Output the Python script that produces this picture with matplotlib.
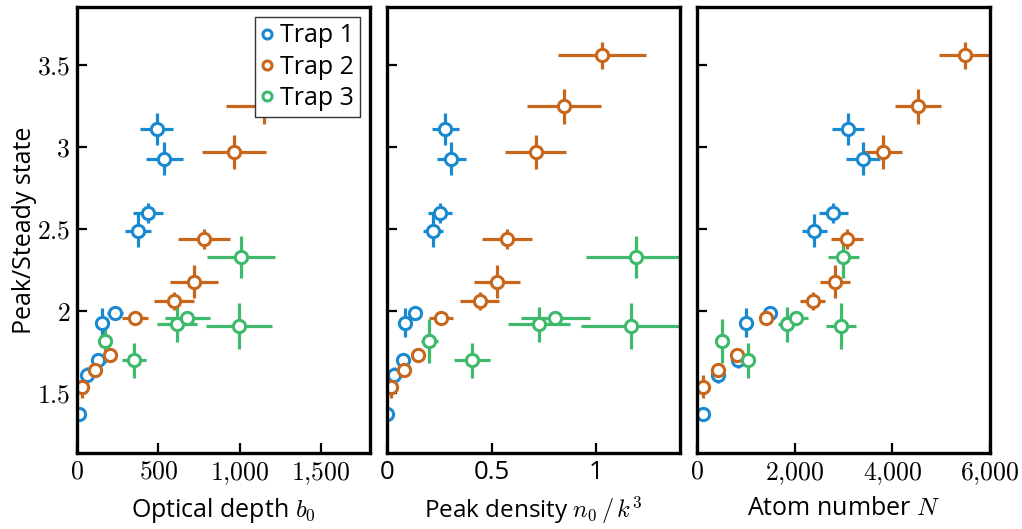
import matplotlib
matplotlib.use("Agg")
import matplotlib.pyplot as plt

plt.rcParams['font.family'] = ['Open Sans', 'DejaVu Sans']
plt.rcParams['mathtext.fontset'] = 'cm'

# peak / steady-state ratio per trap
t1_y = [1.37, 1.61, 1.70, 1.93, 1.99, 2.49, 2.60, 3.11, 2.93]
t1_yerr = [0.02, 0.05, 0.045, 0.087, 0.03, 0.10, 0.062, 0.097, 0.10]
t2_y = [1.54, 1.64, 1.73, 1.96, 2.06, 2.18, 2.44, 2.97, 3.25, 3.56]
t2_yerr = [0.07, 0.03, 0.03, 0.02, 0.055, 0.10, 0.06, 0.105, 0.106, 0.08]
t3_y = [1.82, 1.70, 1.92, 1.96, 1.91, 2.33]
t3_yerr = [0.135, 0.107, 0.107, 0.03, 0.14, 0.13]

# optical depth b0
t1_b0 = [12, 60, 131, 151, 233, 376, 438, 489, 536]
t1_b0err = [3, 12, 26, 30, 47, 80, 92, 104, 113]
t2_b0 = [29, 110, 202, 356, 597, 718, 779, 963, 1147, 1400]
t2_b0err = [6, 22, 40, 79, 125, 147, 160, 196, 233, 260]
t3_b0 = [172, 350, 616, 679, 996, 1006]
t3_b0err = [35, 75, 123, 140, 202, 208]

# peak density n0/k^3
t1_n = [0.002, 0.034, 0.074, 0.087, 0.133, 0.218, 0.253, 0.279, 0.308]
t1_nerr = [0.001, 0.007, 0.015, 0.018, 0.028, 0.048, 0.056, 0.063, 0.068]
t2_n = [0.018, 0.079, 0.146, 0.258, 0.442, 0.527, 0.574, 0.710, 0.846, 1.027]
t2_nerr = [0.004, 0.016, 0.03, 0.058, 0.094, 0.11, 0.119, 0.147, 0.175, 0.21]
t3_n = [0.202, 0.407, 0.726, 0.803, 1.168, 1.19]
t3_nerr = [0.04, 0.087, 0.15, 0.165, 0.24, 0.24]

# atom number N
t1_N = [130, 437, 847, 1004, 1495, 2396, 2791, 3099, 3393]
t1_Nerr = [15, 45, 85, 100, 150, 256, 300, 325, 350]
t2_N = [130, 437, 812, 1413, 2369, 2826, 3078, 3803, 4532, 5488]
t2_Nerr = [15, 45, 80, 140, 256, 307, 324, 392, 471, 526]
t3_N = [519, 1051, 1837, 2027, 2949, 2997]
t3_Nerr = [55, 105, 180, 256, 307, 314]

labels = ['Trap 1', 'Trap 2', 'Trap 3']
colors = ['#1a8ad0', '#c8671c', '#3fb96b']

y_ticks = [1.5, 2, 2.5, 3, 3.5]
y_ticklabels = ['$1.5$', '$2$', '$2.5$', '$3$', '$3.5$']
b0_ticks = [0, 500, 1000, 1500]
b0_ticklabels = ['$0$', '$500$', '$1{,}000$', '$1{,}500$']
n_ticks = [0, 0.5, 1]
n_ticklabels = ['0', '0.5', '1']
N_ticks = [0, 2000, 4000, 6000]
N_ticklabels = ['$0$', '$2{,}000$', '$4{,}000$', '$6{,}000$']

fig = plt.figure(figsize=(10.22, 5.29), dpi=100)
w, h, bot = 0.2867, 0.843, 0.1437
axs = [fig.add_axes([l, bot, w, h]) for l in (0.0753, 0.3787, 0.682)]

panels = [
    ([t1_b0, t2_b0, t3_b0], [t1_b0err, t2_b0err, t3_b0err]),
    ([t1_n, t2_n, t3_n], [t1_nerr, t2_nerr, t3_nerr]),
    ([t1_N, t2_N, t3_N], [t1_Nerr, t2_Nerr, t3_Nerr]),
]
ys = [t1_y, t2_y, t3_y]
yerrs = [t1_yerr, t2_yerr, t3_yerr]

for ax, (xs, xerrs) in zip(axs, panels):
    for x, xe, y, ye, c, lab in zip(xs, xerrs, ys, yerrs, colors, labels):
        ax.errorbar(x, y, xerr=xe, yerr=ye, fmt='o', color=c, ms=8.8,
                    mfc='white', mec=c, mew=2.2, elinewidth=2.3, capsize=0,
                    label=lab)
    ax.set_ylim(1.135, 3.855)
    ax.set_yticks(y_ticks)
    ax.tick_params(direction='in', length=7, width=1.6,
                   top=False, right=False, pad=5)
    for s in ax.spines.values():
        s.set_linewidth(2.4)

axs[0].set_xlim(0, 1800)
axs[0].set_xticks(b0_ticks)
axs[0].set_xticklabels(b0_ticklabels, fontsize=18.5)
axs[0].set_yticklabels(y_ticklabels, fontsize=18.5)
axs[0].set_xlabel('Optical depth $b_0$', fontsize=18, labelpad=7)
axs[0].set_ylabel('Peak/Steady state', fontsize=18, labelpad=0)

axs[1].set_xlim(0, 1.4)
axs[1].set_xticks(n_ticks)
axs[1].set_xticklabels(n_ticklabels, fontsize=18.5)
axs[1].set_yticklabels([])
axs[1].set_xlabel('Peak density $n_0\\,/\\,k^3$', fontsize=17.5, labelpad=7)

axs[2].set_xlim(0, 6000)
axs[2].set_xticks(N_ticks)
axs[2].set_xticklabels(N_ticklabels, fontsize=18.5)
axs[2].set_yticklabels([])
axs[2].set_xlabel('Atom number $N$', fontsize=18, labelpad=7)

handles = [plt.Line2D([], [], ls='', marker='o', ms=6.5, mfc='white', mec=c, mew=2.2)
           for c in colors]
leg = axs[0].legend(handles, labels, loc='upper right', fontsize=18, frameon=True,
                    fancybox=False, framealpha=1, edgecolor='#333333',
                    handlelength=0.5, handletextpad=0.25, borderpad=0.25,
                    labelspacing=0.25, borderaxespad=0.4)
leg.get_frame().set_linewidth(1.0)
leg.set_zorder(10)

fig.savefig('out.png', dpi=100)
